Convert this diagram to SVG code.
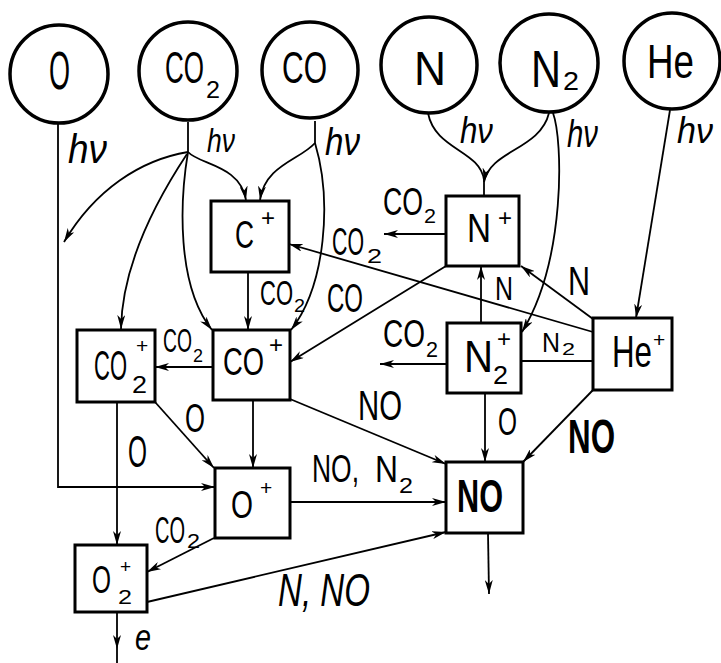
<svg xmlns="http://www.w3.org/2000/svg" width="721" height="663" viewBox="0 0 721 663">
<defs>
<style>
.t{font-family:"Liberation Sans","DejaVu Sans",sans-serif;fill:#000}
.i{font-style:italic}
.b{font-weight:bold}
.c{fill:#fff;stroke:#000;stroke-width:3.5}
.r{fill:#fff;stroke:#000;stroke-width:3}
.e{fill:none;stroke:#000;stroke-width:1.8}
.a{marker-end:url(#ah)}
</style>
<marker id="ah" viewBox="0 0 14 8" refX="14" refY="4" markerWidth="14" markerHeight="8" markerUnits="userSpaceOnUse" orient="auto">
<path d="M0,0 L14,4 L0,8 L4,4 z" fill="#000"/>
</marker>
</defs>
<rect width="721" height="663" fill="#fff"/>

<g id="connectors">
<path class="e a" d="M58 123 L58 487 L215 487"/>
<path class="e" d="M188 122 L188 152"/>
<path class="e a" d="M188 152 C200 165 240 165 246 200"/>
<path class="e a" d="M188 152 C140 160 95 190 64 242"/>
<path class="e a" d="M187 154 C150 210 122 270 121 329"/>
<path class="e a" d="M188 152 C180 200 176 285 212 330"/>
<path class="e" d="M315 121 L315 143"/>
<path class="e a" d="M315 143 C300 160 265 165 260 200"/>
<path class="e a" d="M315 143 C332 200 326 285 291 330"/>
<path class="e a" d="M248 272 L248 330"/>
<path class="e a" d="M593 332 L289 244"/>
<path class="e a" d="M446 234 L384 234"/>
<path class="e a" d="M446 266 L290 362"/>
<path class="e a" d="M481 323 L481 266"/>
<path class="e a" d="M593 319 L521 266"/>
<path class="e a" d="M553 113 C563 140 566 260 522 332"/>
<path class="e" d="M428 113 C435 150 480 150 484 180"/>
<path class="e a" d="M549 113 C540 150 490 150 484 182"/>
<path class="e" d="M484 180 L484 196"/>
<path class="e a" d="M670 110 L636 318"/>
<path class="e" d="M593 361 L521 361"/>
<path class="e a" d="M447 364 L380 364"/>
<path class="e a" d="M213 367 L155 367"/>
<path class="e a" d="M290 399 L446 464"/>
<path class="e a" d="M485 393 L485 462"/>
<path class="e a" d="M593 390 L523 462"/>
<path class="e a" d="M155 402 L214 468"/>
<path class="e a" d="M253 400 L253 468"/>
<path class="e a" d="M117 402 L117 545"/>
<path class="e a" d="M290 502 L446 502"/>
<path class="e a" d="M214 538 L147 572"/>
<path class="e a" d="M147 602 L446 532"/>
<path class="e a" d="M488 533 L489 594"/>
<path class="e a" d="M117 612 L117 649"/>
<path class="e" d="M117 649 L117 663"/>
</g>

<g id="labels">
<text class="t i" x="68" y="163" font-size="40" textLength="39" lengthAdjust="spacingAndGlyphs">hν</text>
<text class="t i" x="207" y="152" font-size="34" textLength="28" lengthAdjust="spacingAndGlyphs">hν</text>
<text class="t i" x="325" y="155" font-size="38" textLength="35" lengthAdjust="spacingAndGlyphs">hν</text>
<text class="t i" x="460" y="143" font-size="36" textLength="33" lengthAdjust="spacingAndGlyphs">hν</text>
<text class="t i" x="567" y="147" font-size="38" textLength="31" lengthAdjust="spacingAndGlyphs">hν</text>
<text class="t i" x="677" y="143" font-size="36" textLength="36" lengthAdjust="spacingAndGlyphs">hν</text>
<text class="t"><tspan x="260" y="305" font-size="35" textLength="33" lengthAdjust="spacingAndGlyphs">CO</tspan><tspan x="294" y="312" font-size="19" textLength="11" lengthAdjust="spacingAndGlyphs">2</tspan></text>
<text class="t" x="327" y="312" font-size="40" textLength="36" lengthAdjust="spacingAndGlyphs">CO</text>
<text class="t"><tspan x="332" y="255" font-size="39" textLength="32" lengthAdjust="spacingAndGlyphs">CO</tspan><tspan x="367" y="263" font-size="21" textLength="15" lengthAdjust="spacingAndGlyphs">2</tspan></text>
<text class="t"><tspan x="383" y="215" font-size="38" textLength="40" lengthAdjust="spacingAndGlyphs">CO</tspan><tspan x="424" y="223" font-size="21" textLength="12" lengthAdjust="spacingAndGlyphs">2</tspan></text>
<text class="t" x="495" y="300" font-size="34" textLength="18" lengthAdjust="spacingAndGlyphs">N</text>
<text class="t" x="568" y="295" font-size="40" textLength="22" lengthAdjust="spacingAndGlyphs">N</text>
<text class="t"><tspan x="383" y="347" font-size="38" textLength="42" lengthAdjust="spacingAndGlyphs">CO</tspan><tspan x="426" y="357" font-size="22" textLength="12" lengthAdjust="spacingAndGlyphs">2</tspan></text>
<text class="t"><tspan x="542" y="352" font-size="28" textLength="18" lengthAdjust="spacingAndGlyphs">N</tspan><tspan x="562" y="355" font-size="17" textLength="13" lengthAdjust="spacingAndGlyphs">2</tspan></text>
<text class="t"><tspan x="163" y="352" font-size="34" textLength="29" lengthAdjust="spacingAndGlyphs">CO</tspan><tspan x="193" y="362" font-size="19" textLength="10" lengthAdjust="spacingAndGlyphs">2</tspan></text>
<text class="t" x="358" y="420" font-size="42" textLength="44" lengthAdjust="spacingAndGlyphs">NO</text>
<text class="t" x="498" y="435" font-size="38" textLength="19" lengthAdjust="spacingAndGlyphs">O</text>
<text class="t b" x="568" y="453" font-size="48" textLength="47" lengthAdjust="spacingAndGlyphs">NO</text>
<text class="t" x="185" y="432" font-size="40" textLength="20" lengthAdjust="spacingAndGlyphs">O</text>
<text class="t" x="128" y="467" font-size="44" textLength="19" lengthAdjust="spacingAndGlyphs">O</text>
<text class="t"><tspan x="312" y="482" font-size="38" textLength="47" lengthAdjust="spacingAndGlyphs">NO,</tspan><tspan x="375" y="482" font-size="37" textLength="23" lengthAdjust="spacingAndGlyphs">N</tspan><tspan x="399" y="493" font-size="22" textLength="14" lengthAdjust="spacingAndGlyphs">2</tspan></text>
<text class="t"><tspan x="155" y="543" font-size="36" textLength="30" lengthAdjust="spacingAndGlyphs">CO</tspan><tspan x="187" y="548" font-size="20" textLength="13" lengthAdjust="spacingAndGlyphs">2</tspan></text>
<text class="t i" x="278" y="606" font-size="46" textLength="92" lengthAdjust="spacingAndGlyphs">N, NO</text>
<text class="t i" x="135" y="650" font-size="36" textLength="16" lengthAdjust="spacingAndGlyphs">e</text>
</g>

<g id="n-O"><circle class="c" cx="59" cy="74" r="49"/><text class="t" x="49" y="89" font-size="53" textLength="21" lengthAdjust="spacingAndGlyphs">O</text></g>
<g id="n-CO2"><circle class="c" cx="188" cy="71" r="49"/><text class="t"><tspan x="165" y="83" font-size="45" textLength="39" lengthAdjust="spacingAndGlyphs">CO</tspan><tspan x="206" y="98" font-size="24" textLength="14" lengthAdjust="spacingAndGlyphs">2</tspan></text></g>
<g id="n-CO"><circle class="c" cx="310" cy="70" r="48"/><text class="t" x="282" y="83" font-size="45" textLength="45" lengthAdjust="spacingAndGlyphs">CO</text></g>
<g id="n-N"><circle class="c" cx="429" cy="65" r="48"/><text class="t" x="414" y="85" font-size="49" textLength="32" lengthAdjust="spacingAndGlyphs">N</text></g>
<g id="n-N2"><circle class="c" cx="549" cy="63" r="49"/><text class="t"><tspan x="531" y="87" font-size="51" textLength="30" lengthAdjust="spacingAndGlyphs">N</tspan><tspan x="563" y="90" font-size="26" textLength="16" lengthAdjust="spacingAndGlyphs">2</tspan></text></g>
<g id="n-He"><circle class="c" cx="672" cy="61" r="48" stroke-width="5"/><text class="t" x="647" y="78" font-size="49" textLength="47" lengthAdjust="spacingAndGlyphs">He</text></g>

<g id="n-Cp"><rect class="r" x="211" y="201" width="78" height="71"/><text class="t"><tspan x="235" y="248" font-size="39" textLength="19" lengthAdjust="spacingAndGlyphs">C</tspan><tspan x="261" y="226" font-size="24">+</tspan></text></g>
<g id="n-Np"><rect class="r" x="446" y="196" width="73" height="70"/><text class="t"><tspan x="467" y="242" font-size="40" textLength="24" lengthAdjust="spacingAndGlyphs">N</tspan><tspan x="498" y="226" font-size="24">+</tspan></text></g>
<g id="n-CO2p"><rect class="r" x="77" y="330" width="78" height="72"/><text class="t"><tspan x="94" y="380" font-size="42" textLength="33" lengthAdjust="spacingAndGlyphs">CO</tspan><tspan x="136" y="353" font-size="21">+</tspan><tspan x="132" y="393" font-size="24" textLength="15" lengthAdjust="spacingAndGlyphs">2</tspan></text></g>
<g id="n-COp"><rect class="r" x="213" y="330" width="77" height="70"/><text class="t"><tspan x="223" y="375" font-size="39" textLength="41" lengthAdjust="spacingAndGlyphs">CO</tspan><tspan x="269" y="353" font-size="24">+</tspan></text></g>
<g id="n-N2p"><rect class="r" x="447" y="323" width="74" height="70"/><text class="t"><tspan x="464" y="372" font-size="45" textLength="29" lengthAdjust="spacingAndGlyphs">N</tspan><tspan x="497" y="347" font-size="24">+</tspan><tspan x="493" y="384" font-size="25" textLength="15" lengthAdjust="spacingAndGlyphs">2</tspan></text></g>
<g id="n-Hep"><rect class="r" x="593" y="318" width="79" height="72"/><text class="t"><tspan x="612" y="367" font-size="45" textLength="40" lengthAdjust="spacingAndGlyphs">He</tspan><tspan x="653" y="347" font-size="21">+</tspan></text></g>
<g id="n-Op"><rect class="r" x="215" y="468" width="75" height="70"/><text class="t"><tspan x="231" y="518" font-size="39" textLength="22" lengthAdjust="spacingAndGlyphs">O</tspan><tspan x="260" y="495" font-size="21">+</tspan></text></g>
<g id="n-NO"><rect class="r" x="446" y="462" width="77" height="71"/><text class="t b" x="457" y="512" font-size="47" textLength="46" lengthAdjust="spacingAndGlyphs">NO</text></g>
<g id="n-O2p"><rect class="r" x="75" y="545" width="72" height="67"/><text class="t"><tspan x="92" y="593" font-size="39" textLength="19" lengthAdjust="spacingAndGlyphs">O</tspan><tspan x="120" y="573" font-size="19">+</tspan><tspan x="118" y="604" font-size="21" textLength="14" lengthAdjust="spacingAndGlyphs">2</tspan></text></g>
</svg>
